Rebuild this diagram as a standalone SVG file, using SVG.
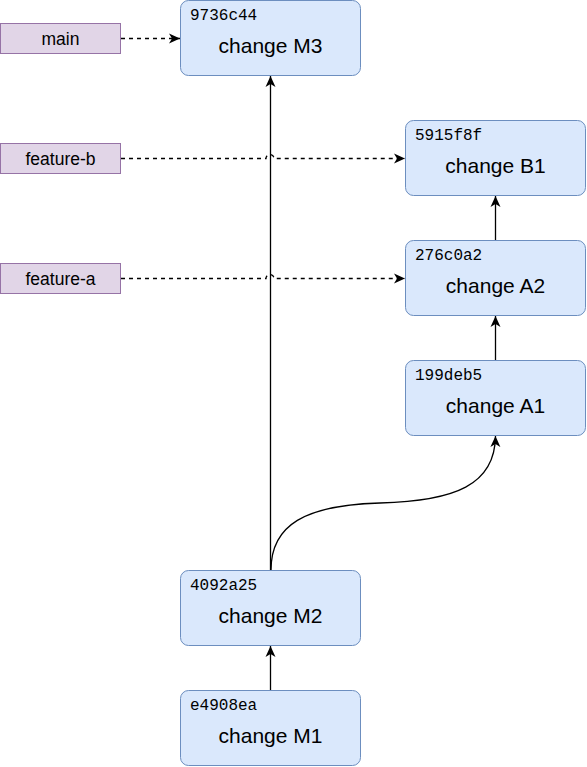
<svg xmlns="http://www.w3.org/2000/svg" width="587" height="767" viewBox="0 0 587 767">
<style>
.lbl{fill:#e1d5e7;stroke:#9673a6;stroke-width:1}
.node{fill:#dae8fc;stroke:#6c8ebf;stroke-width:1}
.t{font-family:"Liberation Sans",Arial,sans-serif;font-size:17.5px;fill:#000;text-anchor:middle}
.msg{font-family:"Liberation Sans",Arial,sans-serif;font-size:21px;fill:#000;text-anchor:middle}
.h{font-family:"Liberation Mono","Courier New",monospace;font-size:16px;fill:#000}
.e{fill:none;stroke:#000;stroke-width:1.3}
.d{fill:none;stroke:#000;stroke-width:1.3;stroke-dasharray:4 4}
</style>
<defs>
<marker id="a" markerUnits="userSpaceOnUse" markerWidth="12" markerHeight="12" viewBox="0 0 12 12" refX="11" refY="6" orient="auto">
<path d="M0,1 L11,6 L0,11 L3,6 Z" fill="#000"/>
</marker>
</defs>
<g id="connectors">
<path class="d" d="M121,38.5 H180" marker-end="url(#a)"/>
<path class="d" d="M121,158.5 H266 A4,4 0 0 1 274,158.5 H405" marker-end="url(#a)"/>
<path class="d" d="M121,278.5 H266 A4,4 0 0 1 274,278.5 H405" marker-end="url(#a)"/>
<path class="e" d="M270.5,570 V76" marker-end="url(#a)"/>
<path class="e" d="M270.5,690 V646" marker-end="url(#a)"/>
<path class="e" d="M495.5,360 V316" marker-end="url(#a)"/>
<path class="e" d="M495.5,240 V196" marker-end="url(#a)"/>
<path class="e" d="M271,570 C271,525 305,505 380,503 C455,501 495,485 495.5,436" marker-end="url(#a)"/>
</g>
<g id="label-main"><rect class="lbl" x="0.5" y="23.5" width="120" height="30"/><text class="t" x="60.5" y="44.5">main</text></g>
<g id="label-feature-b"><rect class="lbl" x="0.5" y="143.5" width="120" height="30"/><text class="t" x="60.5" y="164.5">feature-b</text></g>
<g id="label-feature-a"><rect class="lbl" x="0.5" y="263.5" width="120" height="30"/><text class="t" x="60.5" y="284.5">feature-a</text></g>
<g id="node-9736c44"><rect class="node" x="180.5" y="0.5" width="180" height="75" rx="8"/><text class="h" x="190" y="20">9736c44</text><text class="msg" x="270.5" y="53">change M3</text></g>
<g id="node-5915f8f"><rect class="node" x="405.5" y="120.5" width="180" height="75" rx="8"/><text class="h" x="415" y="140">5915f8f</text><text class="msg" x="495.5" y="173">change B1</text></g>
<g id="node-276c0a2"><rect class="node" x="405.5" y="240.5" width="180" height="75" rx="8"/><text class="h" x="415" y="260">276c0a2</text><text class="msg" x="495.5" y="293">change A2</text></g>
<g id="node-199deb5"><rect class="node" x="405.5" y="360.5" width="180" height="75" rx="8"/><text class="h" x="415" y="380">199deb5</text><text class="msg" x="495.5" y="413">change A1</text></g>
<g id="node-4092a25"><rect class="node" x="180.5" y="570.5" width="180" height="75" rx="8"/><text class="h" x="190" y="590">4092a25</text><text class="msg" x="270.5" y="623">change M2</text></g>
<g id="node-e4908ea"><rect class="node" x="180.5" y="690.5" width="180" height="75" rx="8"/><text class="h" x="190" y="710">e4908ea</text><text class="msg" x="270.5" y="743">change M1</text></g>
</svg>
